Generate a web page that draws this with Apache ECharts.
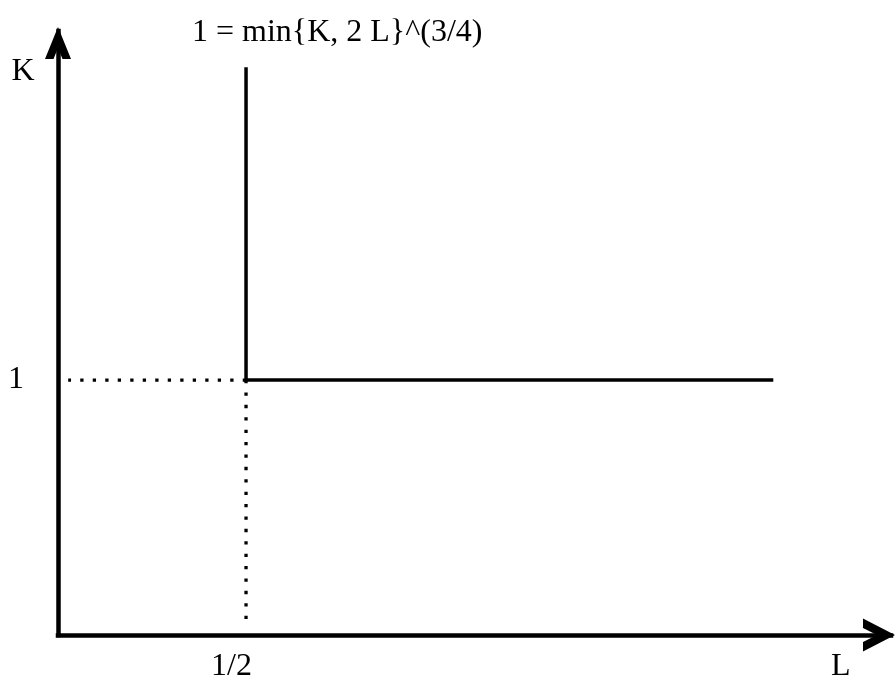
<!DOCTYPE html>
<html>
<head>
<meta charset="utf-8">
<title>Leontief isoquant</title>
<script src="https://cdn.jsdelivr.net/npm/echarts@6/dist/echarts.min.js"></script>
<style>
  html, body { margin: 0; padding: 0; background: #ffffff; }
  #chart { width: 895px; height: 679px; }
</style>
</head>
<body>
<div id="chart"></div>
<script>
// Isoquant 1 = min{K, 2L}^(3/4): an L-shaped curve with its kink at (1/2, 1)
const titleText = '1 = min{K, 2 L}^(3/4)';

// axis extents (L horizontal, K vertical)
const L_MAX = 2.215;
const K_MAX = 2.369;

// the isoquant: vertical arm down to the kink, then the horizontal arm
const isoL = [0.5, 0.5, 1.902];
const isoK = [2.227, 1, 1];

// dotted guides from the kink back to each axis
const guideHL = [0.5, 0.027];
const guideHK = [1, 1];
const guideVL = [0.5, 0.5];
const guideVK = [1, 0.055];

// tick marks shown on the axes
const lTicks = [0.5];
const lTickText = ['1/2'];
const kTicks = [1];
const kTickText = ['1'];

const SERIF = "'Liberation Serif', 'Times New Roman', serif";
const INK = '#000000';

const pairs = (xs, ys) => xs.map((x, i) => [x, ys[i]]);

// arrowheads at the ends of both axes, drawn as notched chevrons
const arrowShapes = {
  x: [[4, 0], [-28, -16.5], [-28, -7], [-14, 0], [-28, 7], [-28, 16.5]],
  y: [[0, -4], [13, 28], [4.5, 28], [0, 17], [-4.5, 28], [-13, 28]]
};

const chart = echarts.init(document.getElementById('chart'), null, { renderer: 'canvas' });

chart.setOption({
  backgroundColor: '#ffffff',
  animation: false,
  title: [
    {
      text: titleText,
      left: 192,
      top: 17,
      padding: 0,
      textStyle: { fontFamily: SERIF, fontSize: 32, fontWeight: 'normal', color: INK }
    },
    {
      text: 'L',
      left: 831,
      top: 651,
      padding: 0,
      textStyle: { fontFamily: SERIF, fontSize: 32, fontWeight: 'normal', color: INK }
    }
  ],
  grid: { left: 58, right: 4, top: 31, bottom: 44, containLabel: false, outerBoundsMode: 'none' },
  xAxis: {
    type: 'value',
    min: 0,
    max: L_MAX,
    axisLine: { show: true, onZero: false, lineStyle: { color: INK, width: 4.5, cap: 'square' } },
    axisTick: { show: false },
    splitLine: { show: false },
    axisLabel: {
      customValues: lTicks,
      formatter: (v) => lTickText[lTicks.indexOf(v)],
      fontFamily: SERIF, fontSize: 32, color: INK,
      margin: 16,
      padding: [0, 29, 0, 0]
    }
  },
  yAxis: {
    type: 'value',
    min: 0,
    max: K_MAX,
    name: 'K',
    nameLocation: 'end',
    nameGap: -41,
    nameTextStyle: {
      fontFamily: SERIF, fontSize: 32, color: INK,
      align: 'right', verticalAlign: 'middle', padding: [0, 23.5, 0, 0]
    },
    axisLine: { show: true, onZero: false, lineStyle: { color: INK, width: 4.5, cap: 'square' } },
    axisTick: { show: false },
    splitLine: { show: false },
    axisLabel: {
      customValues: kTicks,
      formatter: (v) => kTickText[kTicks.indexOf(v)],
      fontFamily: SERIF, fontSize: 32, color: INK,
      margin: 34,
      padding: [0, 0, 18, 0]
    }
  },
  series: [
    {
      name: 'isoquant',
      type: 'line',
      data: pairs(isoL, isoK),
      showSymbol: false,
      lineStyle: { color: INK, width: 3.5, cap: 'butt', join: 'miter' },
      z: 3
    },
    {
      name: 'guide K',
      type: 'line',
      data: pairs(guideHL, guideHK),
      showSymbol: false,
      lineStyle: { color: INK, width: 3.3, type: [3.3, 9.2], cap: 'butt' },
      z: 2
    },
    {
      name: 'guide L',
      type: 'line',
      data: pairs(guideVL, guideVK),
      showSymbol: false,
      lineStyle: { color: INK, width: 3.3, type: [3.3, 9.1], cap: 'butt' },
      z: 2
    },
    {
      name: 'axis arrows',
      type: 'custom',
      clip: false,
      silent: true,
      data: [[L_MAX, 0, 'x'], [0, K_MAX, 'y']],
      renderItem: (params, api) => {
        const which = params.dataIndex === 0 ? 'x' : 'y';
        const end = api.coord([api.value(0), api.value(1)]);
        return {
          type: 'polygon',
          shape: { points: arrowShapes[which].map(([dx, dy]) => [end[0] + dx, end[1] + dy]) },
          style: { fill: INK, stroke: null }
        };
      },
      z: 5
    }
  ]
});
</script>
</body>
</html>
